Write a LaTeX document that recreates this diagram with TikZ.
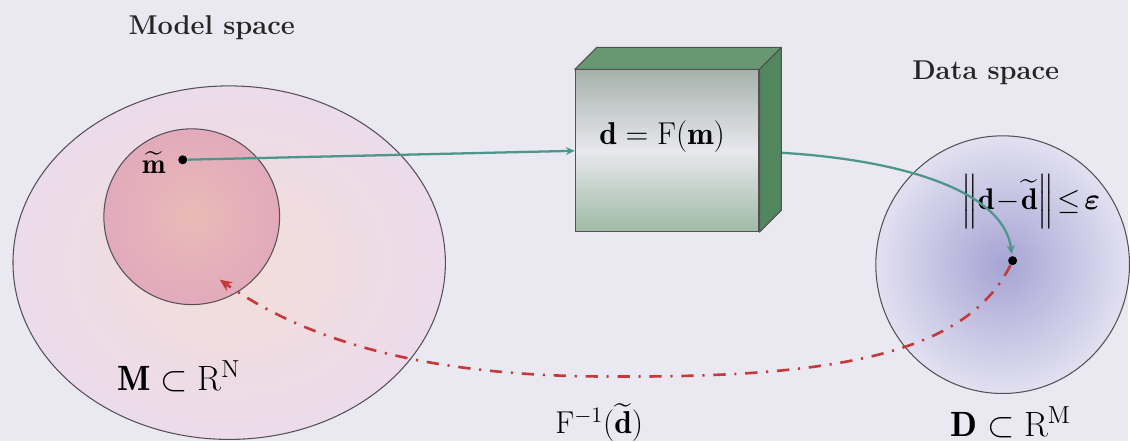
\documentclass[tikz,border=0pt]{standalone}
\usepackage{fix-cm}
\usepackage{fontspec}
\usepackage{amsmath}
\usepackage{xcolor}
\usepackage{tikz}
\usetikzlibrary{arrows.meta, calc}
\definecolor{bggray}{RGB}{234,233,241}
\definecolor{edgegray}{RGB}{85,80,85}
\definecolor{modpink}{RGB}{236,219,235}
\definecolor{modpeach}{RGB}{242,222,216}
\definecolor{balpink}{RGB}{226,170,188}
\definecolor{balpeach}{RGB}{234,186,182}
\definecolor{datlav}{RGB}{226,224,240}
\definecolor{datblue}{RGB}{166,164,212}
\definecolor{boxgreen}{RGB}{104,152,112}
\definecolor{boxdark}{RGB}{82,134,94}
\definecolor{boxtop}{RGB}{166,178,172}
\definecolor{boxmid}{RGB}{232,232,238}
\definecolor{boxbot}{RGB}{158,186,164}
\definecolor{myteal}{RGB}{76,150,140}
\definecolor{myred}{RGB}{196,58,58}
\tikzset{
  spacelbl/.style={font=\fontsize{15.5}{18}\selectfont\bfseries\addfontfeature{LetterSpace=8},
    text=black!85, inner sep=0pt},
  setlbl/.style={font=\fontsize{20}{24}\selectfont, inner sep=0pt},
  mathlbl/.style={font=\fontsize{18}{22}\selectfont, inner sep=0pt},
  dotnode/.style={circle, fill=black, minimum size=0.18cm, inner sep=0pt},
  fwdbox/.style={rectangle, draw=edgegray, line width=0.6pt,
    top color=boxtop, bottom color=boxbot, middle color=boxmid,
    minimum width=3.68cm, minimum height=3.24cm, inner sep=0pt},
  boxside/.style={draw=edgegray, line width=0.6pt, line join=round},
  spaceedge/.style={draw=edgegray, line width=0.6pt},
  fwdarrow/.style={-{Stealth[length=5pt,width=4.5pt]}, line width=1.3pt, color=myteal},
  invarrow/.style={-{Stealth[length=7pt,width=6pt]}, line width=1.5pt, color=myred,
    dash pattern=on 7pt off 5pt on 1.2pt off 5pt}
}

\begin{document}
\begin{tikzpicture}[x=0.02cm, y=-0.02cm]
  \fill[bggray] (0,0) rectangle (1130,442);

  % model space
  \shade[spaceedge, inner color=modpeach, outer color=modpink]
    (229.5,263) ellipse [x radius=216.5, y radius=177];
  \shade[spaceedge, inner color=balpeach, outer color=balpink]
    (192,217) circle [radius=88];
  % data space
  \shade[spaceedge, inner color=datblue, outer color=datlav]
    (1004,265) ellipse [x radius=127, y radius=129];

  % forward operator box
  \node[fwdbox] (fwd) at (668,151) {};
  \fill[boxgreen, boxside] (fwd.north west) -- ++(22,-22)
    -- ($(fwd.north east)+(22,-22)$) -- (fwd.north east) -- cycle;
  \fill[boxdark, boxside] (fwd.north east) -- ++(22,-22)
    -- ($(fwd.south east)+(22,-22)$) -- (fwd.south east) -- cycle;
  \node[mathlbl] (fwdlbl) at (663,137) {$\mathbf{d}=\mathrm{F}(\mathbf{m})$};
  \coordinate (fwdout) at (783,153);

  \node[spacelbl] (mlbl) at (212,28) {Model space};
  \node[spacelbl] (dlbl) at (987,73) {Data space};
  \node[font=\fontsize{16}{18}\selectfont, inner sep=0pt] (mtlbl) at (154,163) {$\widetilde{\mathbf{m}}$};
  \node[setlbl] (mset) at (179,377) {$\mathbf{M}\subset\mathrm{R}^{\mathrm{N}}$};
  \node[setlbl] (dset) at (1012,423) {$\mathbf{D}\subset\mathrm{R}^{\mathrm{M}}$};
  \node[font=\fontsize{17}{20}\selectfont, inner sep=0pt] (tol) at (1032,202)
    {$\left\|\mathbf{d}\!-\!\widetilde{\mathbf{d}}\right\|\!\le\!\boldsymbol{\varepsilon}$};
  \node[mathlbl] (invlbl) at (600,423) {$\mathrm{F}^{-1}(\widetilde{\mathbf{d}})$};

  \node[dotnode] (mt) at (183,160) {};
  \node[dotnode] (dt) at (1014,261) {};
  \coordinate (invtip) at (220,280);

  \draw[fwdarrow] (mt) -- (fwd.west);
  \draw[fwdarrow, shorten >=1pt] (fwdout) .. controls (900,160) and (1005,190) .. (dt);
  \draw[invarrow] (dt) .. controls (970,350) and (850,378) .. (620,377)
    .. controls (450,378) and (320,350) .. (invtip);
\end{tikzpicture}
\end{document}
